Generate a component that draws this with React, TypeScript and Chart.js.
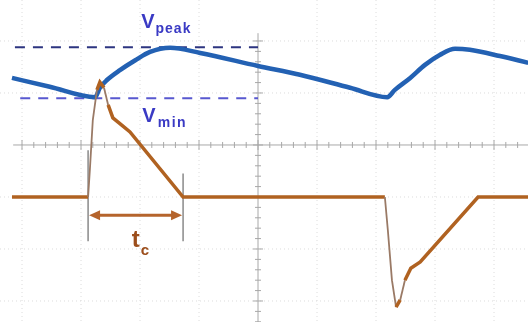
import React, { useEffect, useRef } from "react";
import { Chart, registerables } from "chart.js";

Chart.register(...registerables);

// Time axis in divisions (0 = centre graticule line); voltage/current in divisions
const X_MIN = -4.373;
const X_MAX = 4.576;
const Y_MIN = -3.404;
const Y_MAX = 2.788;

const voltageX = [-4.17, -3.53, -2.76, -2.68, -2.56, -2.34, -2.08, -1.83, -1.49, -0.98, 0, 0.71, 1.56, 2.19, 2.32, 2.58, 2.83, 3.08, 3.34, 3.59, 4.1, 4.58];
const voltageY = [1.29, 1.12, 0.92, 1.1, 1.25, 1.44, 1.63, 1.79, 1.87, 1.77, 1.52, 1.35, 1.1, 0.92, 1.06, 1.29, 1.54, 1.73, 1.85, 1.83, 1.71, 1.58];

const currentX = [-4.17, -2.88, -2.85, -2.8, -2.73, -2.68, -2.61, -2.54, -2.46, -2.31, -2.17, -1.27, 2.15, 2.2, 2.27, 2.34, 2.41, 2.49, 2.59, 2.75, 3.73, 4.58];
const currentY = [-1.0, -1.0, -0.48, 0.48, 1.06, 1.21, 1.1, 0.77, 0.52, 0.38, 0.25, -1.0, -1.0, -1.63, -2.6, -3.12, -2.98, -2.6, -2.37, -2.25, -1.0, -1.0];

const V_PEAK = 1.88;
const V_MIN = 0.9;
const TC_START = -2.88;
const TC_END = -1.27;

const FONT = "'Liberation Sans', Arial, sans-serif";

const annotationPlugin = {
  id: "scopeDecor",
  beforeDatasetsDraw(chart: any) {
    const { ctx, scales } = chart;
    const xs = scales.x;
    const ys = scales.y;
    const px = (v: number) => xs.getPixelForValue(v);
    const py = (v: number) => ys.getPixelForValue(v);
    ctx.save();
    // faint dotted graticule
    ctx.strokeStyle = "#dcdcdc";
    ctx.lineWidth = 1;
    ctx.setLineDash([1, 3]);
    for (let i = Math.ceil(X_MIN); i <= Math.floor(X_MAX); i++) {
      if (i === 0) continue;
      ctx.beginPath();
      ctx.moveTo(px(i), py(Y_MAX));
      ctx.lineTo(px(i), py(Y_MIN));
      ctx.stroke();
    }
    for (let j = Math.ceil(Y_MIN); j <= Math.floor(Y_MAX); j++) {
      if (j === 0) continue;
      ctx.beginPath();
      ctx.moveTo(px(X_MIN), py(j));
      ctx.lineTo(px(X_MAX), py(j));
      ctx.stroke();
    }
    ctx.setLineDash([]);
    // centre axes with minor ticks
    ctx.strokeStyle = "#a8a8a8";
    ctx.lineWidth = 1;
    ctx.beginPath();
    ctx.moveTo(px(-4.15), py(0));
    ctx.lineTo(px(X_MAX), py(0));
    ctx.moveTo(px(0), py(2.15));
    ctx.lineTo(px(0), py(Y_MIN));
    ctx.stroke();
    ctx.beginPath();
    for (let t = -20; t <= 22; t++) {
      const v = t * 0.2;
      if (v < -4.15 || v > X_MAX) continue;
      const len = t % 5 === 0 ? 5 : 3;
      ctx.moveTo(px(v), py(0) - len);
      ctx.lineTo(px(v), py(0) + len);
    }
    for (let t = -17; t <= 10; t++) {
      const v = t * 0.2;
      const len = t % 5 === 0 ? 5 : 3;
      ctx.moveTo(px(0) - len, py(v));
      ctx.lineTo(px(0) + len, py(v));
    }
    ctx.stroke();

    // Vpeak / Vmin dashed lines
    ctx.lineWidth = 2;
    ctx.setLineDash([10, 8]);
    ctx.strokeStyle = "#2d3580";
    ctx.beginPath();
    ctx.moveTo(px(-4.12), py(V_PEAK));
    ctx.lineTo(px(0), py(V_PEAK));
    ctx.stroke();
    ctx.strokeStyle = "#5858d0";
    ctx.beginPath();
    ctx.moveTo(px(-4.03), py(V_MIN));
    ctx.lineTo(px(0), py(V_MIN));
    ctx.stroke();
    ctx.setLineDash([]);

    // t_c marker lines
    ctx.strokeStyle = "#8a8a8a";
    ctx.lineWidth = 1.5;
    ctx.beginPath();
    ctx.moveTo(px(TC_START), py(-0.1));
    ctx.lineTo(px(TC_START), py(-1.85));
    ctx.moveTo(px(TC_END), py(-0.55));
    ctx.lineTo(px(TC_END), py(-1.85));
    ctx.stroke();

    // double arrow
    const ay = py(-1.35);
    const ax1 = px(TC_START) + 1;
    const ax2 = px(TC_END) - 1;
    ctx.strokeStyle = "#b5642c";
    ctx.fillStyle = "#b5642c";
    ctx.lineWidth = 3;
    ctx.beginPath();
    ctx.moveTo(ax1 + 8, ay);
    ctx.lineTo(ax2 - 8, ay);
    ctx.stroke();
    ctx.beginPath();
    ctx.moveTo(ax1, ay);
    ctx.lineTo(ax1 + 11, ay - 5);
    ctx.lineTo(ax1 + 11, ay + 5);
    ctx.closePath();
    ctx.fill();
    ctx.beginPath();
    ctx.moveTo(ax2, ay);
    ctx.lineTo(ax2 - 11, ay - 5);
    ctx.lineTo(ax2 - 11, ay + 5);
    ctx.closePath();
    ctx.fill();

    // labels
    ctx.textBaseline = "alphabetic";
    ctx.textAlign = "left";
    ctx.fillStyle = "#3a3ac4";
    ctx.font = `bold 20px ${FONT}`;
    ctx.fillText("V", px(-1.98), py(2.25));
    let w = ctx.measureText("V").width;
    ctx.font = `bold 14px ${FONT}`;
    (ctx as any).letterSpacing = "1px";
    ctx.fillText("peak", px(-1.98) + w + 1, py(2.15));
    (ctx as any).letterSpacing = "0px";
    ctx.font = `bold 20px ${FONT}`;
    ctx.fillText("V", px(-1.96), py(0.44));
    w = ctx.measureText("V").width;
    ctx.font = `bold 14px ${FONT}`;
    (ctx as any).letterSpacing = "1.5px";
    ctx.fillText("min", px(-1.96) + w + 2, py(0.34));
    (ctx as any).letterSpacing = "0px";
    ctx.fillStyle = "#9c4e1c";
    ctx.font = `bold 24px ${FONT}`;
    ctx.fillText("t", px(-2.14), py(-1.96));
    w = ctx.measureText("t").width;
    ctx.font = `bold 15px ${FONT}`;
    ctx.fillText("c", px(-2.14) + w + 1, py(-2.12));
    ctx.restore();
  },
};

function toPoints(xs: number[], ys: number[]) {
  return xs.map((x, i) => ({ x, y: ys[i] }));
}

const steep = (c: any) => {
  const dx = Math.abs(c.p1.x - c.p0.x);
  const dy = Math.abs(c.p1.y - c.p0.y);
  return dy > dx * 4;
};

export default function App() {
  const ref = useRef<HTMLCanvasElement | null>(null);
  useEffect(() => {
    document.body.style.margin = "0";
    document.body.style.background = "#ffffff";
    if (!ref.current) return;
    const chart = new Chart(ref.current, {
      type: "scatter",
      data: {
        datasets: [
          {
            label: "Current",
            data: toPoints(currentX, currentY),
            showLine: true,
            borderColor: "#b06221",
            borderWidth: 3.5,
            pointRadius: 0,
            tension: 0,
            segment: {
              borderColor: (c: any) => (steep(c) ? "#9a7a66" : "#b06221"),
              borderWidth: (c: any) => (steep(c) ? 1.8 : 3.5),
            },
          } as any,
          {
            label: "Output voltage",
            data: toPoints(voltageX, voltageY),
            showLine: true,
            borderColor: "#2361b3",
            borderWidth: 4.5,
            pointRadius: 0,
            cubicInterpolationMode: "monotone",
          } as any,
        ],
      },
      options: {
        responsive: false,
        animation: false,
        layout: { padding: 0 },
        plugins: { legend: { display: false }, tooltip: { enabled: false } },
        scales: {
          x: { type: "linear", min: X_MIN, max: X_MAX, display: false },
          y: { type: "linear", min: Y_MIN, max: Y_MAX, display: false },
        },
      },
      plugins: [annotationPlugin],
    });
    return () => chart.destroy();
  }, []);
  return (
    <div style={{ width: 528, height: 322, background: "#fff" }}>
      <canvas ref={ref} width={528} height={322} />
    </div>
  );
}
